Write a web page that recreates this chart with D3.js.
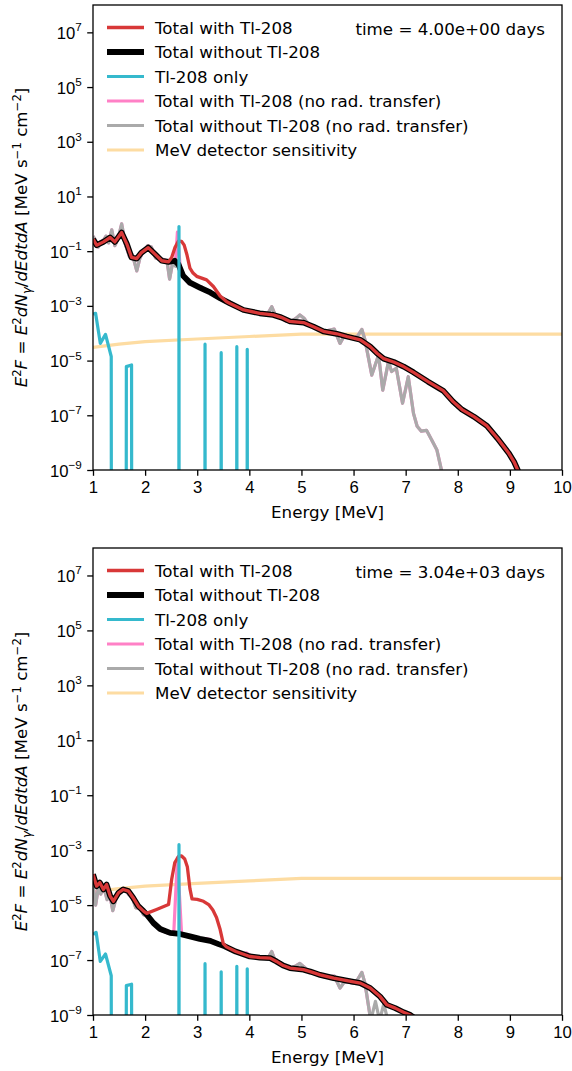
<!DOCTYPE html>
<meta charset="utf-8">
<style>
    html, body { margin: 0; padding: 0; background: #fff; }
    svg { display: block; font-family: "DejaVu Sans", sans-serif; }
</style>
<svg id="chart" width="572" height="1071"></svg>
<script src="https://d3js.org/d3.v7.min.js"></script>
<script>
// energies in MeV, fluxes given as log10 of E^2 F (null = zero flux)
const xTicks = [1, 2, 3, 4, 5, 6, 7, 8, 9, 10];
const yTickExps = [-9, -7, -5, -3, -1, 1, 3, 5, 7];

const legendLabels = ["Total with Tl-208", "Total without Tl-208", "Tl-208 only",
    "Total with Tl-208 (no rad. transfer)", "Total without Tl-208 (no rad. transfer)",
    "MeV detector sensitivity"];

const detector = [[1.0, -4.52], [1.5, -4.40], [2.0, -4.31], [3.0, -4.21], [4.0, -4.12],
    [5.0, -4.03], [10.0, -4.03]];

// ---- panel 1: t = 4 days
const time1 = "time = 4.00e+00 days";
const black1 = [[1.00, -0.56], [1.07, -0.78], [1.20, -0.66], [1.33, -0.50], [1.42, -0.66],
    [1.55, -0.32], [1.65, -0.74], [1.74, -1.23], [1.84, -1.27], [1.93, -1.05], [2.06, -0.87],
    [2.19, -1.11], [2.32, -1.35], [2.45, -1.39], [2.57, -1.35], [2.64, -1.48], [2.73, -1.90],
    [2.86, -2.15], [3.05, -2.33], [3.25, -2.51], [3.44, -2.72], [3.63, -2.91], [3.89, -3.15],
    [4.20, -3.27], [4.46, -3.33], [4.61, -3.42], [4.78, -3.57], [5.04, -3.61], [5.23, -3.76],
    [5.42, -3.93], [5.68, -4.02], [5.87, -4.12], [6.13, -4.24], [6.32, -4.49], [6.45, -4.73],
    [6.58, -4.93], [6.77, -5.05], [6.96, -5.22], [7.15, -5.43], [7.43, -5.77], [7.72, -6.10],
    [7.91, -6.50], [8.08, -6.79], [8.31, -7.05], [8.56, -7.39], [8.76, -7.84], [8.98, -8.39],
    [9.08, -8.70], [9.15, -9.00], [9.22, -9.40]];
const red1 = [[1.00, -0.56], [1.07, -0.78], [1.20, -0.66], [1.33, -0.50], [1.42, -0.66],
    [1.55, -0.32], [1.65, -0.74], [1.74, -1.23], [1.84, -1.27], [1.93, -1.05], [2.06, -0.87],
    [2.19, -1.11], [2.32, -1.35], [2.45, -1.39], [2.51, -1.23], [2.57, -0.88], [2.64, -0.63],
    [2.70, -0.64], [2.75, -0.78], [2.80, -1.11], [2.86, -1.62], [2.92, -1.80], [2.99, -1.92],
    [3.18, -2.05], [3.31, -2.29], [3.44, -2.64], [3.56, -2.84], [3.63, -2.91], [3.89, -3.15],
    [4.20, -3.27], [4.46, -3.33], [4.61, -3.42], [4.78, -3.57], [5.04, -3.61], [5.23, -3.76],
    [5.42, -3.93], [5.68, -4.02], [5.87, -4.12], [6.13, -4.24], [6.32, -4.49], [6.45, -4.73],
    [6.58, -4.93], [6.77, -5.05], [6.96, -5.22], [7.15, -5.43], [7.43, -5.77], [7.72, -6.10],
    [7.91, -6.50], [8.08, -6.79], [8.31, -7.05], [8.56, -7.39], [8.76, -7.84], [8.98, -8.39],
    [9.08, -8.70], [9.15, -9.00], [9.22, -9.40]];
const gray1 = [[1.00, -0.45], [1.05, -0.60], [1.10, -0.85], [1.15, -0.65], [1.20, -0.60],
    [1.25, -0.45], [1.30, -0.70], [1.36, -0.22], [1.42, -0.80], [1.48, -0.55], [1.55, 0.00],
    [1.62, -0.75], [1.70, -1.20], [1.76, -1.15], [1.84, -1.72], [1.90, -1.25], [1.97, -1.00],
    [2.05, -0.80], [2.12, -0.85], [2.20, -1.25], [2.28, -1.30], [2.35, -1.30], [2.42, -1.35],
    [2.47, -2.02], [2.53, -1.40], [2.58, -1.55], [2.64, -1.45], [2.70, -1.80], [2.78, -2.05],
    [2.85, -2.20], [2.92, -2.20], [3.00, -2.30], [3.08, -2.30], [3.15, -2.45], [3.25, -2.50],
    [3.35, -2.62], [3.45, -2.75], [3.55, -2.82], [3.65, -2.90], [3.75, -3.00], [3.85, -3.10],
    [3.95, -3.17], [4.05, -3.22], [4.15, -3.26], [4.25, -3.28], [4.35, -3.30], [4.43, -3.03],
    [4.50, -3.35], [4.60, -3.40], [4.70, -3.55], [4.80, -3.58], [4.90, -3.45], [4.97, -3.33],
    [5.05, -3.45], [5.15, -3.72], [5.25, -3.78], [5.35, -3.87], [5.45, -3.93], [5.55, -3.88],
    [5.63, -3.85], [5.74, -4.37], [5.82, -4.10], [5.90, -4.12], [6.00, -4.20], [6.08, -4.10],
    [6.16, -3.86], [6.22, -4.25], [6.35, -5.53], [6.48, -4.80], [6.56, -6.08], [6.67, -5.04],
    [6.73, -5.40], [6.82, -5.28], [6.94, -6.56], [7.05, -5.59], [7.15, -6.93], [7.22, -7.40],
    [7.30, -7.58], [7.40, -7.55], [7.50, -7.90], [7.60, -8.27], [7.71, -9.20]];
const pink1 = [[1.00, -0.45], [1.05, -0.60], [1.10, -0.85], [1.15, -0.65], [1.20, -0.60],
    [1.25, -0.45], [1.30, -0.70], [1.36, -0.22], [1.42, -0.80], [1.48, -0.55], [1.55, 0.00],
    [1.62, -0.75], [1.70, -1.20], [1.76, -1.15], [1.84, -1.72], [1.90, -1.25], [1.97, -1.00],
    [2.05, -0.80], [2.12, -0.85], [2.20, -1.25], [2.28, -1.30], [2.35, -1.30], [2.42, -1.35],
    [2.47, -2.02], [2.53, -1.40], [2.58, -1.45], [2.62, -0.30], [2.67, -1.50], [2.70, -1.80],
    [2.78, -2.05], [2.85, -2.20], [2.92, -2.20], [3.00, -2.30], [3.08, -2.30], [3.15, -2.45],
    [3.25, -2.50], [3.35, -2.62], [3.45, -2.75], [3.55, -2.82], [3.65, -2.90], [3.75, -3.00],
    [3.85, -3.10], [3.95, -3.17], [4.05, -3.22], [4.15, -3.26], [4.25, -3.28], [4.35, -3.30],
    [4.43, -3.03], [4.50, -3.35], [4.60, -3.40], [4.70, -3.55], [4.80, -3.58], [4.90, -3.45],
    [4.97, -3.33], [5.05, -3.45], [5.15, -3.72], [5.25, -3.78], [5.35, -3.87], [5.45, -3.93],
    [5.55, -3.88], [5.63, -3.85], [5.74, -4.37], [5.82, -4.10], [5.90, -4.12], [6.00, -4.20],
    [6.08, -4.10], [6.16, -3.86], [6.22, -4.25], [6.35, -5.53], [6.48, -4.80], [6.56, -6.08],
    [6.67, -5.04], [6.73, -5.40], [6.82, -5.28], [6.94, -6.56], [7.05, -5.59], [7.15, -6.93],
    [7.22, -7.40], [7.30, -7.58], [7.40, -7.55], [7.50, -7.90], [7.60, -8.27], [7.71, -9.20]];
const tl1 = [[1.00, -3.30], [1.05, -3.27], [1.14, -4.37], [1.24, -4.04], [1.35, -4.85], [1.352, null],
    [1.638, null], [1.64, -5.22], [1.74, -5.16], [1.742, null],
    [2.648, null], [2.65, -0.10], [2.652, null],
    [3.148, null], [3.15, -4.40], [3.152, null],
    [3.458, null], [3.46, -4.71], [3.462, null],
    [3.758, null], [3.76, -4.49], [3.762, null],
    [3.958, null], [3.96, -4.59], [3.962, null]];

// ---- panel 2: t = 3040 days
const time2 = "time = 3.04e+03 days";
const black2 = [[1.00, -3.88], [1.07, -4.31], [1.13, -4.18], [1.20, -4.43], [1.26, -4.25],
    [1.33, -4.67], [1.39, -4.86], [1.49, -4.55], [1.58, -4.43], [1.68, -4.49], [1.77, -4.73],
    [1.87, -5.04], [1.97, -5.22], [2.03, -5.34], [2.16, -5.65], [2.29, -5.87], [2.48, -6.01],
    [2.67, -6.05], [2.86, -6.14], [3.05, -6.23], [3.25, -6.30], [3.41, -6.42], [3.53, -6.50],
    [3.74, -6.69], [4.01, -6.87], [4.20, -6.91], [4.40, -6.93], [4.52, -7.05], [4.65, -7.20],
    [4.78, -7.29], [5.04, -7.35], [5.17, -7.42], [5.36, -7.54], [5.62, -7.66], [5.87, -7.75],
    [6.13, -7.84], [6.32, -8.02], [6.51, -8.33], [6.64, -8.63], [6.80, -8.75], [6.96, -8.90],
    [7.09, -9.00], [7.20, -9.15]];
const red2 = [[1.00, -3.88], [1.07, -4.31], [1.13, -4.18], [1.20, -4.43], [1.26, -4.25],
    [1.33, -4.67], [1.39, -4.86], [1.49, -4.55], [1.58, -4.43], [1.68, -4.49], [1.77, -4.73],
    [1.87, -5.04], [1.97, -5.22], [2.03, -5.30], [2.22, -5.16], [2.45, -4.98], [2.51, -4.06],
    [2.57, -3.45], [2.64, -3.23], [2.70, -3.21], [2.76, -3.32], [2.81, -3.60], [2.86, -4.40],
    [2.90, -4.77], [3.00, -4.79], [3.12, -4.86], [3.22, -4.98], [3.30, -5.18], [3.37, -5.45],
    [3.44, -5.89], [3.50, -6.40], [3.56, -6.52], [3.74, -6.69], [4.01, -6.87], [4.20, -6.91],
    [4.40, -6.93], [4.52, -7.05], [4.65, -7.20], [4.78, -7.29], [5.04, -7.35], [5.17, -7.42],
    [5.36, -7.54], [5.62, -7.66], [5.87, -7.75], [6.13, -7.84], [6.32, -8.02], [6.51, -8.33],
    [6.64, -8.63], [6.80, -8.75], [6.96, -8.90], [7.09, -9.00], [7.20, -9.15]];
const gray2 = [[1.00, -4.20], [1.05, -5.00], [1.10, -4.40], [1.15, -4.60], [1.20, -4.30],
    [1.27, -4.80], [1.33, -4.70], [1.38, -5.20], [1.45, -4.70], [1.52, -4.45], [1.60, -4.40],
    [1.68, -4.60], [1.75, -4.70], [1.82, -5.10], [1.90, -5.10], [1.97, -5.35], [2.05, -5.40],
    [2.15, -5.65], [2.25, -5.85], [2.35, -5.95], [2.45, -6.02], [2.55, -6.05], [2.65, -6.05],
    [2.75, -6.10], [2.85, -6.14], [2.95, -6.20], [3.05, -6.23], [3.15, -6.28], [3.25, -6.25],
    [3.35, -6.40], [3.45, -6.45], [3.55, -6.55], [3.65, -6.65], [3.75, -6.72], [3.85, -6.78],
    [3.95, -6.85], [4.05, -6.88], [4.15, -6.92], [4.25, -6.93], [4.35, -6.95], [4.43, -6.69],
    [4.50, -7.05], [4.60, -7.10], [4.70, -7.25], [4.80, -7.30], [4.90, -7.20], [4.97, -7.12],
    [5.05, -7.25], [5.15, -7.45], [5.25, -7.50], [5.35, -7.56], [5.45, -7.62], [5.55, -7.60],
    [5.63, -7.58], [5.74, -8.02], [5.82, -7.80], [5.90, -7.80], [6.00, -7.85], [6.08, -7.70],
    [6.16, -7.45], [6.22, -7.85], [6.33, -9.20], [6.42, -8.50], [6.50, -9.20], [6.58, -8.60],
    [6.66, -9.20], [6.72, -9.20]];
const pink2 = [[1.00, -4.20], [1.05, -5.00], [1.10, -4.40], [1.15, -4.60], [1.20, -4.30],
    [1.27, -4.80], [1.33, -4.70], [1.38, -5.20], [1.45, -4.70], [1.52, -4.45], [1.60, -4.40],
    [1.68, -4.60], [1.75, -4.70], [1.82, -5.10], [1.90, -5.10], [1.97, -5.35], [2.05, -5.40],
    [2.15, -5.65], [2.25, -5.85], [2.35, -5.95], [2.45, -6.02], [2.55, -6.02], [2.62, -3.27],
    [2.70, -6.05], [2.75, -6.10], [2.85, -6.14], [2.95, -6.20], [3.05, -6.23], [3.15, -6.22],
    [3.25, -6.25], [3.35, -6.40], [3.45, -6.45], [3.55, -6.55], [3.65, -6.65], [3.75, -6.66],
    [3.85, -6.78], [3.95, -6.74], [4.05, -6.88], [4.15, -6.92], [4.25, -6.93], [4.35, -6.95],
    [4.43, -6.69], [4.50, -7.05], [4.60, -7.10], [4.70, -7.25], [4.80, -7.30], [4.90, -7.20],
    [4.97, -7.12], [5.05, -7.25], [5.15, -7.45], [5.25, -7.50], [5.35, -7.56], [5.45, -7.62],
    [5.55, -7.60], [5.63, -7.58], [5.74, -8.02], [5.82, -7.80], [5.90, -7.80], [6.00, -7.85],
    [6.08, -7.70], [6.16, -7.45], [6.22, -7.85], [6.33, -9.20]];
const tl2 = [[1.00, -6.07], [1.06, -5.99], [1.14, -7.05], [1.24, -6.78], [1.35, -7.57], [1.352, null],
    [1.638, null], [1.64, -7.93], [1.74, -7.88], [1.742, null],
    [2.648, null], [2.65, -2.80], [2.652, null],
    [3.148, null], [3.15, -7.13], [3.152, null],
    [3.458, null], [3.46, -7.43], [3.462, null],
    [3.758, null], [3.76, -7.23], [3.762, null],
    [3.958, null], [3.96, -7.32], [3.962, null]];

const colors = {red: "#d83838", black: "#000000", cyan: "#35b9cd", pink: "#ff80c6",
    gray: "#aaaaaa", orange: "#fddca2"};
const fontSize = 16.7;
const tick = 5.8;

const panels = [
    {top: 5, height: 465, time: time1, red: red1, black: black1, tl: tl1, pink: pink1, gray: gray1},
    {top: 548, height: 467, time: time2, red: red2, black: black2, tl: tl2, pink: pink2, gray: gray2}
];

const svg = d3.select("#chart");
const left = 93, right = 562;

// text with super/subscripts; parts: [text, italic, shift(px, negative = up), smaller]
function richText(sel, parts) {
    let cur = 0;
    parts.forEach(([t, it, sh, small]) => {
        sel.append("tspan")
            .attr("dy", sh - cur)
            .style("font-style", it ? "italic" : "normal")
            .style("font-size", small ? (fontSize * 0.7) + "px" : null)
            .text(t);
        cur = sh;
    });
}

panels.forEach((p, i) => {
    const bottom = p.top + p.height;
    const x = d3.scaleLinear().domain([1, 10]).range([left, right]);
    const y = d3.scaleLog().domain([1e-9, 1e8]).range([bottom, p.top]);

    const g = svg.append("g");
    g.append("clipPath").attr("id", "clip" + i)
        .append("rect").attr("x", left).attr("y", p.top)
        .attr("width", right - left).attr("height", p.height);

    const line = d3.line()
        .x(d => x(d[0]))
        .y(d => d[1] === null ? bottom + 30 : y(Math.pow(10, d[1])));

    const plot = g.append("g").attr("clip-path", `url(#clip${i})`)
        .attr("fill", "none").attr("stroke-linejoin", "round");

    const series = [
        {data: detector, color: colors.orange, w: 3.2},
        {data: p.pink, color: colors.pink, w: 3.2},
        {data: p.gray, color: colors.gray, w: 3.2},
        {data: p.black, color: colors.black, w: 5.8},
        {data: p.red, color: colors.red, w: 3.3},
        {data: p.tl, color: colors.cyan, w: 3.2}
    ];
    series.forEach(s => {
        plot.append("path").datum(s.data)
            .attr("d", line)
            .attr("stroke", s.color)
            .attr("stroke-width", s.w);
    });

    // axes
    const xa = g.append("g").attr("transform", `translate(0,${bottom})`)
        .call(d3.axisBottom(x).tickValues(xTicks).tickSize(tick).tickPadding(5.4).tickSizeOuter(0));
    const ya = g.append("g").attr("transform", `translate(${left},0)`)
        .call(d3.axisLeft(y).tickValues(yTickExps.map(e => Math.pow(10, e)))
            .tickSize(tick).tickPadding(5.4).tickSizeOuter(0).tickFormat(""));
    [xa, ya].forEach(a => {
        a.select(".domain").remove();
        a.selectAll(".tick line").attr("stroke-width", 1.3);
        a.selectAll("text").attr("font-family", null).attr("font-size", fontSize).attr("fill", "#000");
    });
    ya.selectAll(".tick text").each(function (d, k) {
        const e = yTickExps[k];
        const t = d3.select(this).attr("dy", null);
        richText(t, [["10", false, 6], [String(e).replace("-", "\u2212"), false, -1.5, true]]);
    });

    g.append("rect").attr("x", left).attr("y", p.top)
        .attr("width", right - left).attr("height", p.height)
        .attr("fill", "none").attr("stroke", "#000").attr("stroke-width", 1.3);

    g.append("text").attr("x", (left + right) / 2).attr("y", bottom + 48)
        .attr("text-anchor", "middle").attr("font-size", fontSize)
        .text("Energy [MeV]");

    const yl = g.append("text")
        .attr("transform", `translate(27,${p.top + p.height / 2}) rotate(-90)`)
        .attr("text-anchor", "middle").attr("font-size", fontSize);
    richText(yl, [["E", true, 0], ["2", false, -6.5, true], ["F", true, 0], [" = ", false, 0],
        ["E", true, 0], ["2", false, -6.5, true], ["dN", true, 0], ["\u03b3", true, 3.5, true],
        ["/", false, 0], ["dEdtdA", true, 0], [" [MeV s", false, 0], ["\u22121", false, -6.5, true],
        [" cm", false, 0], ["\u22122", false, -6.5, true], ["]", false, 0]]);

    g.append("text").attr("x", 545).attr("y", p.top + 30)
        .attr("text-anchor", "end").attr("font-size", fontSize)
        .text(p.time);

    // legend
    const legColors = [colors.red, colors.black, colors.cyan, colors.pink, colors.gray, colors.orange];
    const legWidths = [3.3, 5.8, 3.2, 3.2, 3.2, 3.2];
    const leg = g.append("g");
    legendLabels.forEach((lab, k) => {
        const ly = p.top + 22.5 + k * 24.5;
        leg.append("line").attr("x1", 107).attr("x2", 144).attr("y1", ly).attr("y2", ly)
            .attr("stroke", legColors[k]).attr("stroke-width", legWidths[k]);
        leg.append("text").attr("x", 155).attr("y", ly + 6)
            .attr("font-size", fontSize).text(lab);
    });
});
</script>
